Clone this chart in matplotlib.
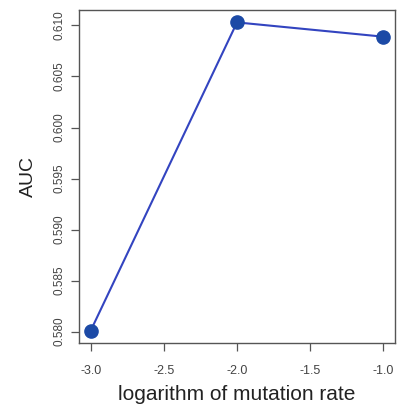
import matplotlib
matplotlib.use("Agg")
import matplotlib.pyplot as plt

log_rate = [-3.0, -2.0, -1.0]
auc = [0.5801, 0.6103, 0.6089]
xticks = [-3.0, -2.5, -2.0, -1.5, -1.0]
yticks = [0.580, 0.585, 0.590, 0.595, 0.600, 0.605, 0.610]

plt.rcParams['font.family'] = ['Liberation Sans', 'DejaVu Sans']

fig = plt.figure(figsize=(3.98, 4.11), dpi=100)
ax = fig.add_axes([0.1985, 0.1655, 0.7940, 0.8100])

ax.plot(log_rate, auc, color='#3344c0', lw=1.5, marker='o', ms=9.5,
        mfc='#1c4aa6', mec='#1c4aa6')

# R-style 4% padding
xr = max(log_rate) - min(log_rate)
yr = max(auc) - min(auc)
ax.set_xlim(min(log_rate) - 0.04 * xr, max(log_rate) + 0.04 * xr)
ax.set_ylim(min(auc) - 0.04 * yr, max(auc) + 0.04 * yr)

ax.set_xticks(xticks)
ax.set_xticklabels(['%.1f' % t for t in xticks])
ax.set_yticks(yticks)
ax.set_yticklabels(['%.3f' % t for t in yticks], rotation=90, va='center')

for s in ax.spines.values():
    s.set_color('#555555')
    s.set_linewidth(1.0)
ax.tick_params(direction='out', length=5.5, width=0.9, color='#555555',
               labelcolor='#444444')
ax.tick_params(axis='x', labelsize=9, pad=10)
ax.tick_params(axis='y', labelsize=8.5, pad=4)

ax.set_ylabel('AUC', fontsize=14, color='#222222', labelpad=12)
ax.set_xlabel('logarithm of mutation rate', fontsize=15, color='#222222', labelpad=6)

fig.savefig('out.png', dpi=100)
